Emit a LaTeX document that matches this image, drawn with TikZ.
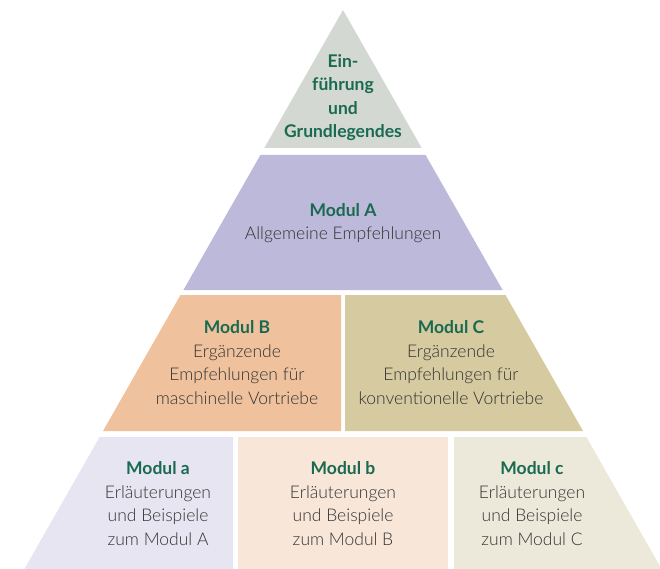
\documentclass[tikz,border=0pt]{standalone}
\usepackage{fontspec}
\setmainfont{Lato}[UprightFont=* Light, BoldFont=* Bold]
\definecolor{cTop}{HTML}{D3D9D2}
\definecolor{cA}{HTML}{BDB9DA}
\definecolor{cB}{HTML}{EFC29D}
\definecolor{cC}{HTML}{D5CAA0}
\definecolor{ca}{HTML}{E7E5F2}
\definecolor{cb}{HTML}{F8E6D8}
\definecolor{cc}{HTML}{EDE9DA}
\definecolor{tgreen}{HTML}{1A6A52}
\definecolor{tgrey}{HTML}{333333}
\tikzset{
  lbl/.style={align=center, inner sep=0pt, text=tgrey, font=\fontsize{17.5}{23.5}\selectfont},
  hd/.style={text=tgreen, font=\fontsize{17.5}{23.5}\selectfont\bfseries}
}
\begin{document}
\begin{tikzpicture}[x=1pt,y=-1pt]
\useasboundingbox (0,0) rectangle (660,569);
\begin{scope}
\clip (0,0) rectangle (660,569);
% top triangle
\fill[cTop] (343,10) -- (421.7,148) -- (264.3,148) -- cycle;
% Modul A
\fill[cA] (260.4,155) -- (425.6,155) -- (502.6,290) -- (183.4,290) -- cycle;
% Modul B / C
\fill[cB] (180.5,295) -- (341,295) -- (341,431) -- (103,431) -- cycle;
\fill[cC] (345,295) -- (505.5,295) -- (583,431) -- (345,431) -- cycle;
% bottom row
\fill[ca] (99.6,437) -- (233,437) -- (233,569) -- (24.4,569) -- cycle;
\fill[cb] (238,437) -- (448,437) -- (448,569) -- (238,569) -- cycle;
\fill[cc] (454,437) -- (586.4,437) -- (661.6,569) -- (454,569) -- cycle;
\end{scope}
\node[lbl, hd] (top) at (343,97.5) {Ein-\\führung\\und\\Grundlegendes};
\node[lbl] (A) at (343,223) {\textcolor{tgreen}{\bfseries Modul A}\\Allgemeine Empfehlungen};
\node[lbl] (B) at (237,362.5) {\textcolor{tgreen}{\bfseries Modul B}\\Ergänzende\\Empfehlungen für\\maschinelle Vortriebe};
\node[lbl] (C) at (451,362.5) {\textcolor{tgreen}{\bfseries Modul C}\\Ergänzende\\Empfehlungen für\\konventionelle Vortriebe};
\node[lbl] (a) at (158,503.5) {\textcolor{tgreen}{\bfseries Modul a}\\Erläuterungen\\und Beispiele\\zum Modul A};
\node[lbl] (b) at (343,503.5) {\textcolor{tgreen}{\bfseries Modul b}\\Erläuterungen\\und Beispiele\\zum Modul B};
\node[lbl] (c) at (532,503.5) {\textcolor{tgreen}{\bfseries Modul c}\\Erläuterungen\\und Beispiele\\zum Modul C};
\end{tikzpicture}
\end{document}
